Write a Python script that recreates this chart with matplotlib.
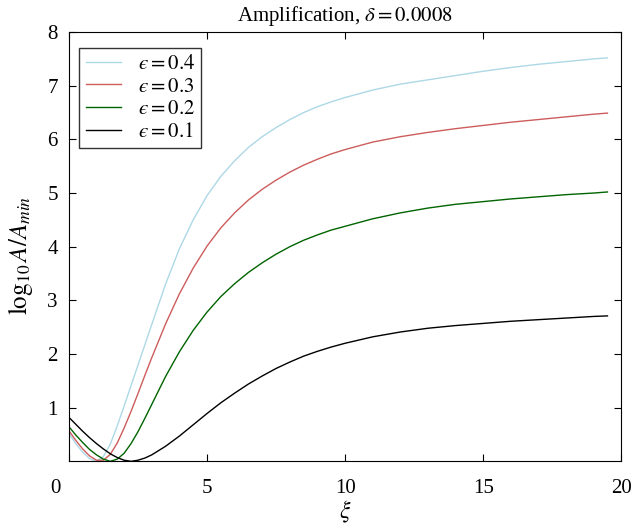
import numpy as np
import matplotlib
matplotlib.use("Agg")
import matplotlib.pyplot as plt
import matplotlib.transforms as mtransforms

plt.rcParams['font.family'] = ['Liberation Serif', 'DejaVu Serif']
plt.rcParams['mathtext.fontset'] = 'stix'

# xi grid shared by all curves
xi = [0.0, 0.25, 0.5, 0.75, 1.0, 1.25, 1.5, 1.75, 2.0, 2.25, 2.5, 2.75,
      3.0, 3.5, 4.0, 4.5, 5.0, 5.5, 6.0, 6.5, 7.0, 7.5, 8.0, 8.5, 9.0, 9.5,
      10, 11, 12, 13, 14, 15, 16, 17, 18, 19, 19.5]

# log10 A/Amin for each epsilon
amp_04 = [0.52, 0.33, 0.17, 0.05, 0.00, 0.09, 0.32, 0.66, 1.03, 1.41, 1.79, 2.17,
          2.55, 3.30, 3.96, 4.50, 4.95, 5.31, 5.60, 5.85, 6.05, 6.22, 6.37, 6.50, 6.61, 6.70,
          6.78, 6.92, 7.03, 7.11, 7.19, 7.27, 7.34, 7.40, 7.45, 7.50, 7.52]
amp_03 = [0.57, 0.39, 0.23, 0.10, 0.02, 0.02, 0.13, 0.34, 0.62, 0.93, 1.26, 1.60,
          1.93, 2.56, 3.12, 3.60, 4.01, 4.35, 4.63, 4.87, 5.07, 5.24, 5.39, 5.52, 5.63, 5.73,
          5.81, 5.95, 6.05, 6.13, 6.20, 6.26, 6.32, 6.37, 6.42, 6.47, 6.49]
amp_02 = [0.645, 0.49, 0.35, 0.22, 0.12, 0.04, 0.00, 0.04, 0.15, 0.33, 0.55, 0.80,
          1.06, 1.58, 2.04, 2.44, 2.78, 3.07, 3.31, 3.52, 3.70, 3.86, 4.00, 4.12, 4.22, 4.31,
          4.38, 4.52, 4.63, 4.72, 4.79, 4.84, 4.89, 4.93, 4.97, 5.00, 5.02]
amp_01 = [0.82, 0.69, 0.56, 0.44, 0.33, 0.23, 0.14, 0.07, 0.02, 0.00, 0.02, 0.06,
          0.12, 0.28, 0.47, 0.68, 0.89, 1.09, 1.27, 1.44, 1.59, 1.73, 1.85, 1.96, 2.05, 2.13,
          2.20, 2.32, 2.41, 2.48, 2.53, 2.57, 2.61, 2.64, 2.67, 2.70, 2.71]

labels = ['$\u03f5 = 0.4$', '$\u03f5 = 0.3$', '$\u03f5 = 0.2$', '$\u03f5 = 0.1$']
colors = ['#add8e6', '#cd5c5c', '#006400', 'black']

fig = plt.figure(figsize=(6.32, 5.26), dpi=100)
ax = fig.add_axes([0.109, 0.123, 0.874, 0.816])

for y, lab, c in zip([amp_04, amp_03, amp_02, amp_01], labels, colors):
    ax.plot(xi, y, color=c, lw=1.0, label=lab)

ax.set_xlim(0, 20)
ax.set_ylim(0, 8)
ax.set_xticks([0, 5, 10, 15, 20])
ax.set_yticks([1, 2, 3, 4, 5, 6, 7, 8])
ax.tick_params(direction='in', top=True, right=True, labelsize=15, length=5)
ax.tick_params(axis='x', pad=13)
ax.tick_params(axis='y', pad=8)

# the "0" label sits a little left of its tick
shift = mtransforms.ScaledTranslation(-13 / 100, 0, fig.dpi_scale_trans)
first = ax.get_xticklabels()[0]
first.set_transform(first.get_transform() + shift)

ax.set_xlabel(r'$\xi$', fontsize=17)
ax.set_ylabel(r'$\log_{10} A/A_{min}$', fontsize=18)
ax.xaxis.set_label_coords(0.5, -0.088)
ax.yaxis.set_label_coords(-0.062, 0.48)
ax.set_title(r'Amplification, $\delta = 0.0008$', fontsize=15, pad=8)

leg = ax.legend(loc='upper left', fontsize=15, fancybox=False, edgecolor='black',
                handlelength=1.7, borderpad=0.3, labelspacing=0.15,
                bbox_to_anchor=(0.0, 0.987))
leg.get_frame().set_linewidth(1.0)

fig.savefig('out.png', dpi=100)
